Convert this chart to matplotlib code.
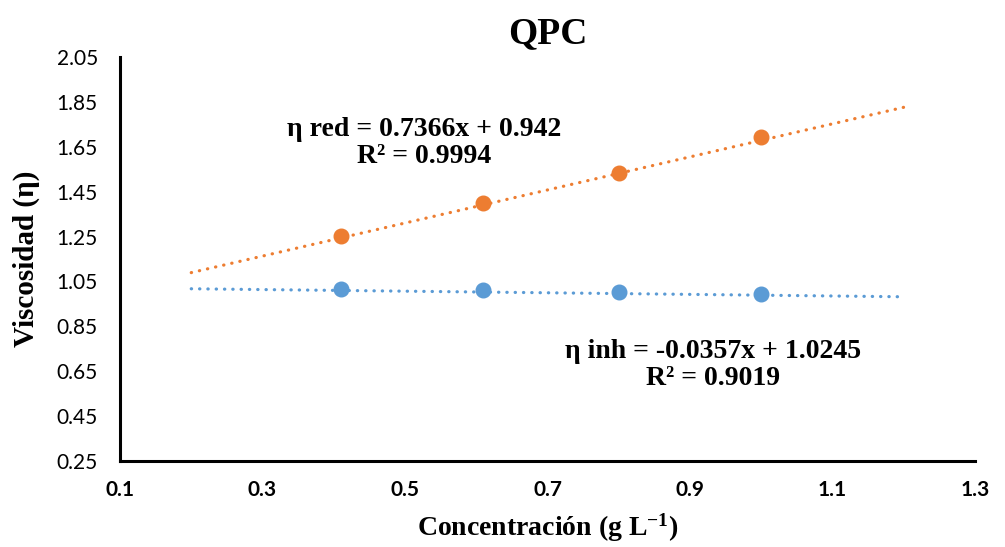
import numpy as np
import matplotlib
matplotlib.use("Agg")
import matplotlib.pyplot as plt

# measured viscosities at each concentration
conc = [0.41, 0.61, 0.80, 1.00]
eta_red = [1.251, 1.398, 1.535, 1.692]
eta_inh = [1.016, 1.014, 1.005, 0.994]

# linear trendlines (slope, intercept, R2)
red_fit = (0.7366, 0.942, 0.9994)
inh_fit = (-0.0357, 1.0245, 0.9019)
fit_range = (0.2, 1.2)

xticks = [0.1, 0.3, 0.5, 0.7, 0.9, 1.1, 1.3]
yticks = [0.25, 0.45, 0.65, 0.85, 1.05, 1.25, 1.45, 1.65, 1.85, 2.05]

orange = "#ED7D31"
blue = "#5B9BD5"
serif = "Liberation Serif"
sans = "Lato"

plt.rcParams["mathtext.default"] = "regular"

fig = plt.figure(figsize=(10.05, 5.47), dpi=100)
ax = fig.add_axes([120 / 1005, 1 - 461 / 547, 855 / 1005, 404 / 547])

# dotted trendlines from the fitted equations
xs = np.linspace(*fit_range, 50)
for slope, icpt, color in [(red_fit[0], red_fit[1], orange), (inh_fit[0], inh_fit[1], blue)]:
    ax.plot(xs, slope * xs + icpt, color=color, lw=2.3, ls=(0, (0.1, 2.5)),
            dash_capstyle="round", zorder=2)

ax.plot(conc, eta_red, "o", color=orange, ms=10.5, zorder=3)
ax.plot(conc, eta_inh, "o", color=blue, ms=10.5, zorder=3)

ax.set_xlim(0.1, 1.3)
ax.set_ylim(0.25, 2.05)
ax.set_xticks(xticks)
ax.set_yticks(yticks)
ax.set_xticklabels([f"{t:.1f}" for t in xticks], fontfamily=sans,
                   fontweight="bold", fontsize=15)
ax.set_yticklabels([f"{t:.2f}" for t in yticks], fontfamily=sans, fontsize=15)
ax.tick_params(length=0)
ax.tick_params(axis="y", pad=16)
ax.tick_params(axis="x", pad=14)

for side in ["top", "right"]:
    ax.spines[side].set_visible(False)
for side in ["left", "bottom"]:
    ax.spines[side].set_linewidth(2.2)
    ax.spines[side].set_color("black")

ax.set_title("QPC", fontfamily=serif, fontweight="bold", fontsize=27, pad=10)
ax.set_xlabel("Concentración (g L$^{-1}$)", fontfamily=serif,
              fontweight="bold", fontsize=20, labelpad=8)
ax.set_ylabel("Viscosidad (η)", fontfamily=serif, fontweight="bold",
              fontsize=21, labelpad=12)

ax.text(0.527, 1.665, f"η red = {red_fit[0]}x + {red_fit[1]}\nR² = {red_fit[2]}",
        ha="center", va="center", fontfamily=serif, fontweight="bold",
        fontsize=20, linespacing=1.1)
ax.text(0.932, 0.677, f"η inh = {inh_fit[0]}x + {inh_fit[1]}\nR² = {inh_fit[2]}",
        ha="center", va="center", fontfamily=serif, fontweight="bold",
        fontsize=20, linespacing=1.1)

fig.savefig("out.png", dpi=100)
